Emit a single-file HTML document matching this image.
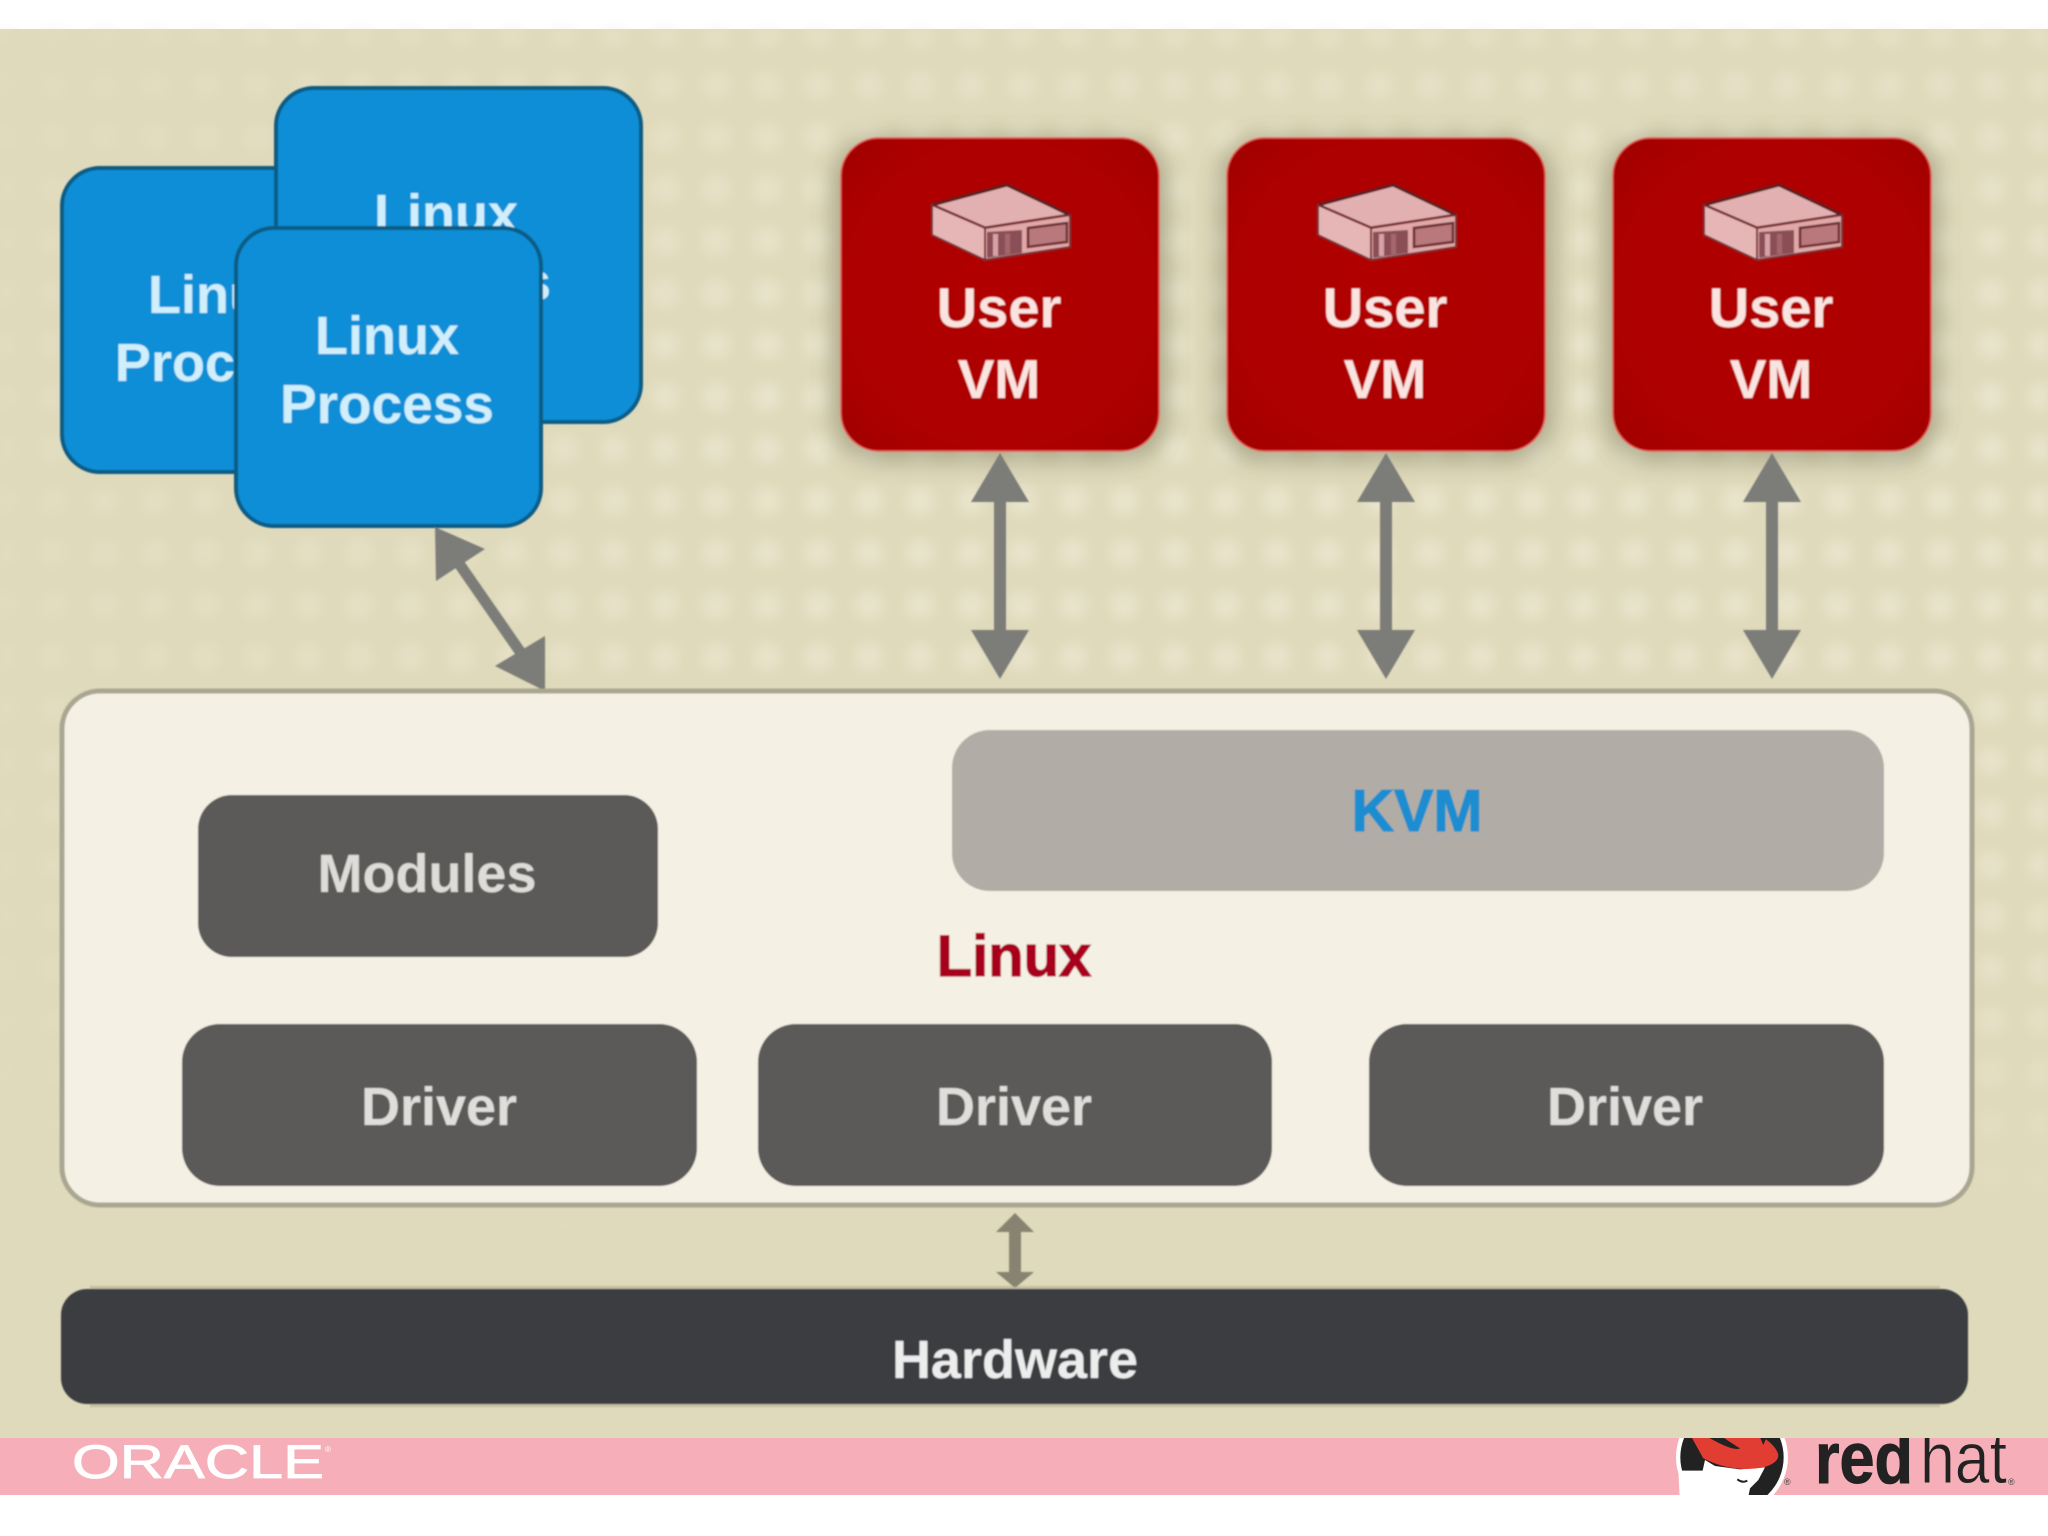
<!DOCTYPE html>
<html><head><meta charset="utf-8">
<style>
html,body{margin:0;padding:0;background:#fff}
svg{display:block}
text{font-family:"Liberation Sans",sans-serif}
.b{font-weight:bold;text-anchor:middle}
</style></head><body>
<svg width="2048" height="1536" viewBox="0 0 2048 1536" xmlns="http://www.w3.org/2000/svg">
<defs>
<pattern id="dots" x="792" y="475" width="51" height="52" patternUnits="userSpaceOnUse">
<ellipse cx="26" cy="26" rx="14" ry="14" fill="#ebe7d0"/>
</pattern>
<linearGradient id="fade" x1="0" y1="0" x2="0" y2="1">
<stop offset="0" stop-color="#fff" stop-opacity=".45"/>
<stop offset=".3" stop-color="#fff" stop-opacity=".8"/>
<stop offset=".75" stop-color="#fff" stop-opacity=".6"/>
<stop offset="1" stop-color="#fff" stop-opacity="0"/>
</linearGradient>
<linearGradient id="leftfade" x1="0" y1="0" x2="1" y2="0">
<stop offset="0" stop-color="#e0dabc" stop-opacity=".75"/>
<stop offset="1" stop-color="#e0dabc" stop-opacity="0"/>
</linearGradient>
<mask id="m"><rect x="0" y="29" width="2048" height="1220" fill="url(#fade)"/></mask>
<filter id="blur" x="-2%" y="-2%" width="104%" height="104%"><feGaussianBlur stdDeviation=".7"/></filter>
<filter id="blurd" x="-2%" y="-2%" width="104%" height="104%"><feGaussianBlur stdDeviation="6"/></filter>
<filter id="sh" x="-20%" y="-20%" width="140%" height="140%"><feGaussianBlur stdDeviation="11"/></filter>
<radialGradient id="vm" cx=".5" cy=".5" r=".7">
<stop offset="0" stop-color="#b00000"/><stop offset=".7" stop-color="#ad0000"/><stop offset="1" stop-color="#a00004"/>
</radialGradient>
<clipPath id="band"><rect x="0" y="1438" width="2048" height="57"/></clipPath>
<g id="srv">
<polygon points="-67,-4 8,-24 71,6 -14,19" fill="#e2b0b0" stroke="#5c1a1e" stroke-width="3" stroke-linejoin="round"/>
<polygon points="-67,-4 -14,19 -14,51 -67,26" fill="#e6b6b6" stroke="#7a2a2e" stroke-width="2"/>
<polygon points="-14,19 71,6 71,38 -14,51" fill="#e0a8a8" stroke="#7a2a2e" stroke-width="2"/>
<polygon points="-12,23 23,21 23,44 -12,49" fill="#8a4f56"/>
<rect x="-6" y="25" width="5" height="22" fill="#d8a2a6"/>
<rect x="6" y="25" width="5" height="20" fill="#a4666c"/>
<polygon points="29,19 68,14 68,33 29,38" fill="#b8787c" stroke="#6e2a2e" stroke-width="2.5"/>
</g>
<g id="arr" fill="#7b7b78">
<rect x="-6" y="40" width="12" height="150"/>
<polygon points="0,0 29,49 -29,49"/>
<polygon points="0,226 29,177 -29,177"/>
</g>
</defs>

<rect x="0" y="29" width="2048" height="1410" fill="#e0dabc"/>
<g filter="url(#blurd)"><rect x="0" y="29" width="2048" height="1220" fill="url(#dots)" mask="url(#m)"/></g>
<rect x="0" y="29" width="820" height="1300" fill="url(#leftfade)"/>

<g filter="url(#blur)">
<!-- Blue process boxes -->
<rect x="62" y="168" width="300" height="304" rx="38" fill="#0a8ed6" stroke="#0b5b84" stroke-width="4"/>
<text class="b" x="220" y="313" font-size="54" fill="#cfeffc">Linux</text>
<text class="b" x="220" y="381" font-size="54" fill="#cfeffc">Process</text>
<rect x="276" y="88" width="365" height="334" rx="38" fill="#0a8ed6" stroke="#0b5b84" stroke-width="4"/>
<text class="b" x="446" y="232" font-size="54" fill="#cfeffc">Linux</text>
<text class="b" x="446" y="300" font-size="54" fill="#cfeffc">Process</text>
<rect x="236" y="228" width="305" height="298" rx="38" fill="#0a8ed6" stroke="#0b5b84" stroke-width="4"/>
<text class="b" x="387" y="354" font-size="54" fill="#cfeffc">Linux</text>
<text class="b" x="387" y="423" font-size="55" fill="#cfeffc">Process</text>

<!-- VMs -->
<rect x="832" y="136" width="336" height="326" rx="46" fill="#6f6f50" opacity=".45" filter="url(#sh)"/>
<rect x="1218" y="136" width="336" height="326" rx="46" fill="#6f6f50" opacity=".45" filter="url(#sh)"/>
<rect x="1604" y="136" width="336" height="326" rx="46" fill="#6f6f50" opacity=".45" filter="url(#sh)"/>
<rect x="841" y="138" width="318" height="313" rx="38" fill="url(#vm)" stroke="#e8625a" stroke-width="1.5"/>
<rect x="1227" y="138" width="318" height="313" rx="38" fill="url(#vm)" stroke="#e8625a" stroke-width="1.5"/>
<rect x="1613" y="138" width="318" height="313" rx="38" fill="url(#vm)" stroke="#e8625a" stroke-width="1.5"/>
<use href="#srv" x="999" y="209"/>
<use href="#srv" x="1385" y="209"/>
<use href="#srv" x="1771" y="209"/>
<text class="b" x="999" y="327" font-size="56" fill="#fbe3df">User</text>
<text class="b" x="999" y="398" font-size="55" fill="#fbe3df">VM</text>
<text class="b" x="1385" y="327" font-size="56" fill="#fbe3df">User</text>
<text class="b" x="1385" y="398" font-size="55" fill="#fbe3df">VM</text>
<text class="b" x="1771" y="327" font-size="56" fill="#fbe3df">User</text>
<text class="b" x="1771" y="398" font-size="55" fill="#fbe3df">VM</text>

<!-- Arrows -->
<use href="#arr" x="1000" y="453"/>
<use href="#arr" x="1386" y="453"/>
<use href="#arr" x="1772" y="453"/>
<g fill="#7b7b78">
<line x1="460" y1="565" x2="521" y2="653" stroke="#7b7b78" stroke-width="11"/>
<polygon points="435,527 485,549 436,581"/>
<polygon points="545,691 545,636 495,666"/>
</g>

<!-- Linux panel -->
<rect x="62" y="691" width="1910" height="514" rx="38" fill="#f4f0e4" stroke="#a9a692" stroke-width="5"/>
<rect x="952" y="730" width="932" height="161" rx="38" fill="#b1ada6"/>
<text class="b" x="1417" y="831" font-size="59" fill="#1a8dd0" stroke="#1a8dd0" stroke-width="1.2">KVM</text>
<rect x="198" y="795" width="460" height="162" rx="34" fill="#5b5a59"/>
<text class="b" x="427" y="892" font-size="54" fill="#dedcd8">Modules</text>
<text class="b" x="1014" y="976" font-size="58" fill="#a8001e" stroke="#a8001e" stroke-width="1.2">Linux</text>
<rect x="182" y="1024" width="515" height="162" rx="38" fill="#5b5a59"/>
<rect x="758" y="1024" width="514" height="162" rx="38" fill="#5b5a59"/>
<rect x="1369" y="1024" width="515" height="162" rx="38" fill="#5b5a59"/>
<text class="b" x="439" y="1125" font-size="54" fill="#e0dedb">Driver</text>
<text class="b" x="1014" y="1125" font-size="54" fill="#e0dedb">Driver</text>
<text class="b" x="1625" y="1125" font-size="54" fill="#e0dedb">Driver</text>

<!-- Small arrow -->
<g fill="#86846f">
<rect x="1009" y="1225" width="12" height="54"/>
<polygon points="1015,1213 1034,1232 996,1232"/>
<polygon points="1015,1288 1034,1272 996,1272"/>
</g>

<!-- Hardware -->
<rect x="90" y="1286" width="1850" height="4" fill="#a8a48a" opacity=".5"/>
<rect x="90" y="1403" width="1850" height="4" fill="#a8a48a" opacity=".5"/>
<rect x="61" y="1289" width="1907" height="115" rx="26" fill="#3b3e3f"/>
<text class="b" x="1015" y="1378" font-size="54" fill="#ecedec">Hardware</text>
</g>

<!-- Bottom band -->
<rect x="0" y="1438" width="2048" height="57" fill="#f6afb8"/>
<text x="72" y="1478" font-size="47" fill="#fff" stroke="#fff" stroke-width=".8" textLength="252" lengthAdjust="spacingAndGlyphs">ORACLE</text>
<text x="325" y="1452" font-size="8" fill="#fff">®</text>

<g clip-path="url(#band)">
<g transform="translate(1600,1380) scale(.3333)">
<circle cx="396" cy="232" r="168" fill="#fff"/>
<circle cx="396" cy="232" r="155" fill="#222"/>
<path d="M235,272 L308,272 L315,240 L345,258 L420,268 L495,262 L475,300 L450,325 L445,350 L240,370 Z" fill="#fff"/>
<path d="M275,172 L310,235 Q400,280 490,262 Q535,250 535,225 Q530,200 490,172 Z" fill="#e23d33"/>
<path d="M325,172 Q400,215 420,205 Q380,180 370,172 Z" fill="#222"/>
<path d="M480,172 L490,195 L500,172 Z" fill="#222"/>
<path d="M412,298 Q428,310 442,302" stroke="#222" stroke-width="6" fill="none"/>
</g>
<text x="1815" y="1483" font-size="72" font-weight="bold" fill="#222" stroke="#222" stroke-width="1" textLength="98" lengthAdjust="spacingAndGlyphs">red</text>
<text x="1920" y="1483" font-size="72" fill="#222" stroke="#f6afb8" stroke-width=".9" paint-order="fill" textLength="87" lengthAdjust="spacingAndGlyphs">hat</text>
</g>
<text x="1784" y="1485" font-size="9" fill="#444">®</text>
<text x="2008" y="1485" font-size="9" fill="#444">®</text>
</svg>
</body></html>
